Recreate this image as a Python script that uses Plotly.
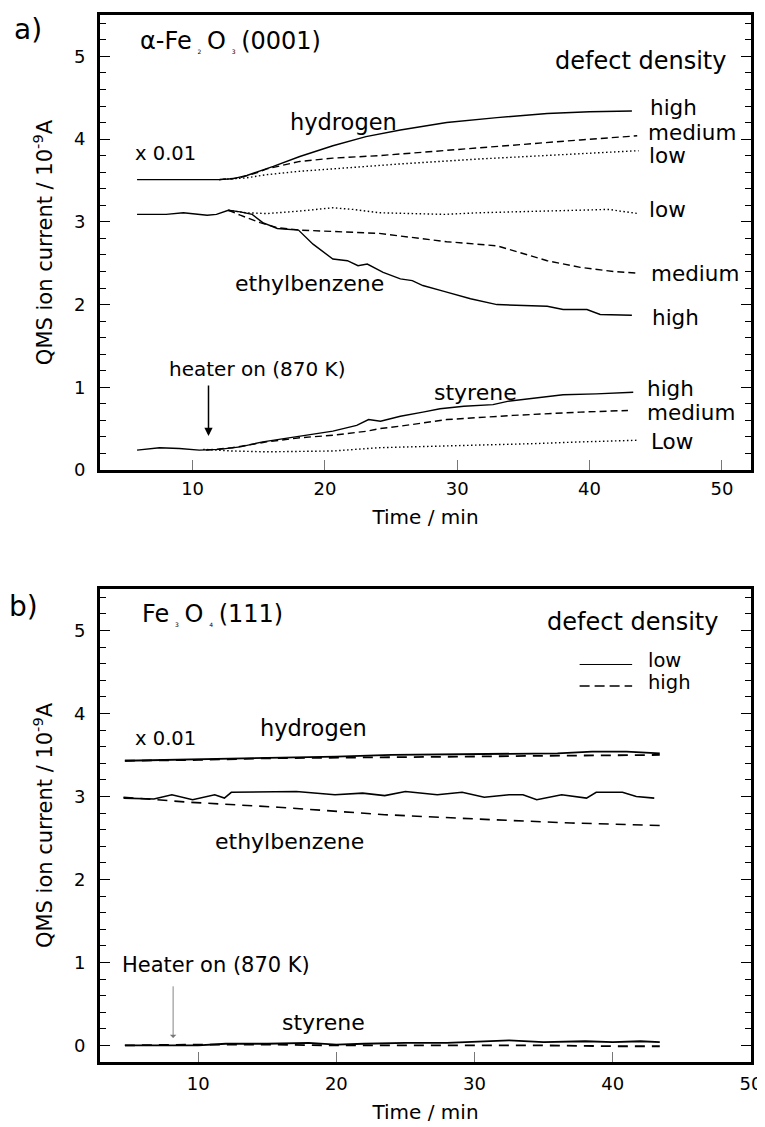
import plotly.graph_objects as go

FONT = "DejaVu Sans, Liberation Sans, Arial, sans-serif"

# ---------------- Panel a: alpha-Fe2O3(0001) ----------------
a_h_high_t = [5.8, 8, 10, 12, 13, 14.1, 16.1, 18.1, 20.6, 23.1, 25.7, 29.2, 33.0, 36.8, 40, 43.2]
a_h_high_v = [3.51, 3.51, 3.51, 3.51, 3.52, 3.56, 3.67, 3.79, 3.92, 4.03, 4.11, 4.20, 4.26, 4.31, 4.33, 4.34]
a_h_med_t = [12, 13.5, 15.0, 15.6, 18.1, 20.6, 24.1, 25.7, 29.2, 34.3, 39.3, 43.6]
a_h_med_v = [3.51, 3.53, 3.60, 3.64, 3.73, 3.77, 3.80, 3.82, 3.87, 3.93, 3.99, 4.04]
a_h_low_t = [12, 14, 15.6, 18, 20.6, 25.7, 31.7, 36.8, 43.7]
a_h_low_v = [3.51, 3.53, 3.57, 3.61, 3.64, 3.70, 3.76, 3.80, 3.86]

a_eb_high_t = [5.8, 8, 9.3, 11.1, 11.8, 12.7, 13.6, 14.5, 15.3, 16.4, 18.0, 19.1, 20.6, 21.7, 22.5,
               23.2, 24.4, 25.7, 26.6, 27.4, 29, 31.0, 33.0, 36.8, 38.0, 39.8, 40.8, 43.2]
a_eb_high_v = [3.09, 3.09, 3.11, 3.08, 3.09, 3.14, 3.12, 3.09, 2.99, 2.92, 2.90, 2.73, 2.55, 2.53, 2.47,
               2.49, 2.39, 2.31, 2.29, 2.23, 2.16, 2.07, 2.00, 1.98, 1.94, 1.94, 1.88, 1.87]
a_eb_med_t = [12.7, 13.6, 15.1, 16.4, 18.1, 21, 24.1, 29.2, 33.0, 34.7, 36.8, 39.3, 41.8, 43.6]
a_eb_med_v = [3.14, 3.08, 2.99, 2.93, 2.90, 2.88, 2.86, 2.76, 2.71, 2.63, 2.53, 2.45, 2.40, 2.38]
a_eb_low_t = [12.7, 14, 15.6, 18.1, 20.6, 22.1, 24.1, 26.6, 29, 31.7, 34, 36.8, 39, 41.5, 42.3, 43.7]
a_eb_low_v = [3.14, 3.11, 3.10, 3.13, 3.17, 3.15, 3.11, 3.10, 3.09, 3.11, 3.12, 3.13, 3.14, 3.15, 3.13, 3.10]

a_st_high_t = [5.8, 7.5, 9.0, 10.5, 12.0, 13.6, 15.3, 17.0, 18.5, 20.6, 22.4, 23.3, 24.2, 25.7, 27.4,
               28.7, 30.5, 32.7, 33.8, 36.0, 38.0, 40.5, 43.3]
a_st_high_v = [0.24, 0.27, 0.26, 0.24, 0.25, 0.28, 0.34, 0.38, 0.42, 0.47, 0.54, 0.61, 0.59, 0.65, 0.70,
               0.74, 0.77, 0.79, 0.83, 0.87, 0.91, 0.92, 0.94]
a_st_med_t = [11, 13.0, 15.6, 18.1, 20.6, 23.2, 24.1, 25.7, 29.2, 34.2, 39.3, 42.9]
a_st_med_v = [0.24, 0.27, 0.34, 0.39, 0.42, 0.47, 0.50, 0.53, 0.61, 0.66, 0.70, 0.72]
a_st_low_t = [10.8, 13, 15.6, 20.6, 24.1, 27, 31.7, 36, 39.3, 43.7]
a_st_low_v = [0.25, 0.23, 0.22, 0.23, 0.27, 0.28, 0.30, 0.32, 0.34, 0.36]

# ---------------- Panel b: Fe3O4(111) ----------------
b_h_low_t = [4.7, 8, 12, 16, 20, 24, 29.3, 33, 36, 38.5, 41, 43.4]
b_h_low_v = [3.43, 3.44, 3.45, 3.47, 3.48, 3.50, 3.51, 3.52, 3.52, 3.54, 3.54, 3.52]
b_h_high_t = [4.7, 10, 15, 20, 25, 29.3, 35, 40, 43.4]
b_h_high_v = [3.43, 3.44, 3.46, 3.47, 3.48, 3.48, 3.49, 3.50, 3.50]

b_eb_low_t = [4.6, 6.8, 8.1, 9.6, 11.2, 11.9, 12.4, 17.1, 19.9, 21.9, 23.5, 25.0, 27.3, 29.1, 30.7,
              32.5, 33.5, 34.5, 36.3, 38.1, 38.8, 40.7, 41.7, 43.0]
b_eb_low_v = [2.98, 2.97, 3.02, 2.96, 3.02, 2.98, 3.05, 3.06, 3.02, 3.04, 3.01, 3.06, 3.02, 3.05, 2.99,
              3.02, 3.02, 2.96, 3.02, 2.98, 3.05, 3.05, 3.00, 2.98]
b_eb_high_t = [4.6, 9.4, 15.8, 23.5, 31.2, 37, 43.4]
b_eb_high_v = [2.99, 2.93, 2.87, 2.78, 2.72, 2.68, 2.65]

b_st_low_t = [4.7, 8, 10, 12, 15, 18, 20, 22, 25, 28, 30, 32.5, 35, 38, 40, 42, 43.4]
b_st_low_v = [0.00, 0.00, 0.00, 0.02, 0.02, 0.03, 0.01, 0.02, 0.03, 0.03, 0.04, 0.06, 0.04, 0.05, 0.04, 0.05, 0.04]
b_st_high_t = [4.7, 10, 15, 20, 25, 30, 35, 40, 43.4]
b_st_high_v = [0.00, 0.01, 0.01, 0.00, 0.00, 0.00, 0.00, -0.01, -0.01]

DASH_A = "7px,4px"
DOT_A = "1.5px,2.5px"
DASH_B = "10px,7px"

fig = go.Figure()


def add(t, v, dash, xa="x", ya="y", w=1.4):
    fig.add_trace(go.Scatter(x=t, y=v, mode="lines", xaxis=xa, yaxis=ya, showlegend=False,
                             hoverinfo="skip",
                             line=dict(color="black", width=w, dash=dash)))


# panel a
add(a_h_low_t, a_h_low_v, DOT_A)
add(a_h_med_t, a_h_med_v, DASH_A)
add(a_h_high_t, a_h_high_v, "solid")
add(a_eb_low_t, a_eb_low_v, DOT_A)
add(a_eb_med_t, a_eb_med_v, DASH_A)
add(a_eb_high_t, a_eb_high_v, "solid")
add(a_st_low_t, a_st_low_v, DOT_A)
add(a_st_med_t, a_st_med_v, DASH_A)
add(a_st_high_t, a_st_high_v, "solid")

# panel b
add(b_h_high_t, b_h_high_v, DASH_B, "x2", "y2", 1.8)
add(b_h_low_t, b_h_low_v, "solid", "x2", "y2", 1.8)
add(b_eb_high_t, b_eb_high_v, DASH_B, "x2", "y2", 1.6)
add(b_eb_low_t, b_eb_low_v, "solid", "x2", "y2", 1.6)
add(b_st_high_t, b_st_high_v, DASH_B, "x2", "y2", 1.8)
add(b_st_low_t, b_st_low_v, "solid", "x2", "y2", 1.8)

ann = []


def txt(x, y, s, size=21.5, xa="x", ya="y", anchor="left"):
    ann.append(dict(x=x, y=y, xref=xa, yref=ya, text=s, showarrow=False, xanchor=anchor,
                    yanchor="middle", borderpad=0,
                    font=dict(family=FONT, size=size, color="black")))


NB = "\u00a0\u00a0\u00a0"


def sub(d):
    return "<sub><span style='font-size:6px'>" + NB + d + NB + "</span></sub>"


# panel a labels
txt(5.95, 5.18, "α-Fe" + sub("2") + "O" + sub("3") + "(0001)", 24)
txt(50.4, 4.94, "defect density", 24, anchor="right")
txt(21.4, 4.21, "hydrogen", 22.5, anchor="center")
txt(5.55, 3.82, "x 0.01", 19.5)
txt(44.5, 4.38, "high")
txt(44.35, 4.08, "medium")
txt(44.45, 3.80, "low")
txt(44.45, 3.15, "low")
txt(44.55, 2.37, "medium")
txt(44.65, 1.84, "high")
txt(18.85, 2.25, "ethylbenzene", 22, anchor="center")
txt(31.4, 0.94, "styrene", 22, anchor="center")
txt(44.25, 0.98, "high")
txt(44.25, 0.70, "medium")
txt(44.55, 0.35, "Low")
txt(14.84, 1.22, "heater on (870 K)", 20, anchor="center")
ann.append(dict(x=11.2, y=0.41, ax=11.2, ay=1.04, xref="x", yref="y", axref="x", ayref="y",
                text="", showarrow=True, arrowhead=2, arrowsize=1.1, arrowwidth=1.5,
                arrowcolor="black"))

# panel b labels
txt(5.9, 5.2, "Fe" + sub("3") + "O" + sub("4") + "(111)", 24, "x2", "y2")
txt(47.7, 5.10, "defect density", 24, "x2", "y2", anchor="right")
txt(42.45, 4.64, "low", 19.5, "x2", "y2")
txt(42.45, 4.37, "high", 19.5, "x2", "y2")
txt(18.35, 3.82, "hydrogen", 22.5, "x2", "y2", anchor="center")
txt(5.35, 3.70, "x 0.01", 19.5, "x2", "y2")
txt(16.6, 2.46, "ethylbenzene", 22, "x2", "y2", anchor="center")
txt(19.1, 0.28, "styrene", 22, "x2", "y2", anchor="center")
txt(11.3, 0.97, "Heater on (870 K)", 21, "x2", "y2", anchor="center")
ann.append(dict(x=8.19, y=0.09, ax=8.19, ay=0.73, xref="x2", yref="y2", axref="x2", ayref="y2",
                text="", showarrow=True, arrowhead=1, arrowsize=1.2, arrowwidth=0.9,
                arrowcolor="#777777"))

# panel letters
ann.append(dict(x=-0.135, y=0.9866, xref="paper", yref="paper", text="a)", showarrow=False,
                xanchor="left", yanchor="middle", font=dict(family=FONT, size=28, color="black")))
ann.append(dict(x=-0.143, y=0.4346, xref="paper", yref="paper", text="b)", showarrow=False,
                xanchor="left", yanchor="middle", font=dict(family=FONT, size=28, color="black")))

shapes = [
    dict(type="line", xref="x2", yref="y2", x0=37.6, x1=41.4, y0=4.59, y1=4.59,
         line=dict(color="black", width=1)),
    dict(type="line", xref="x2", yref="y2", x0=37.6, x1=41.4, y0=4.33, y1=4.33,
         line=dict(color="black", width=1.4, dash="10px,5px")),
]

tickfont = dict(family=FONT, size=18, color="black")
yt = dict(text="QMS ion current / 10<sup>-9</sup>A", font=dict(family=FONT, size=21, color="black"),
          standoff=16)

common_y = dict(dtick=1, tick0=0, ticks="inside", ticklen=10, tickwidth=1, tickcolor="black",
                minor=dict(dtick=0.2, tick0=0, ticks="inside", ticklen=6, tickcolor="black", tickwidth=1),
                showline=True, linewidth=3, linecolor="black", mirror="ticks", showgrid=False,
                zeroline=False, tickfont=tickfont, title=yt, ticklabelstandoff=8, automargin=False)
common_x = dict(dtick=10, tick0=0, ticks="inside", ticklen=10, tickwidth=1, tickcolor="#777777",
                showline=True, linewidth=3, linecolor="black", mirror=True, showgrid=False,
                zeroline=False, tickfont=tickfont, automargin=False, ticklabeloverflow="allow")

# the page body adds an 8px offset, so the figure is 8px smaller and shifted accordingly
fig.update_layout(
    width=757, height=1119,
    margin=dict(l=92, r=14, t=7, b=65),
    paper_bgcolor="white", plot_bgcolor="white",
    showlegend=False,
    xaxis=dict(domain=[0, 1], anchor="y", range=[3, 52.2], ticklabelstandoff=0,
               title=dict(text="Time / min", font=dict(family=FONT, size=20, color="black"), standoff=13),
               **common_x),
    yaxis=dict(domain=[0.5654, 1], anchor="x", range=[0, 5.5], **common_y),
    xaxis2=dict(domain=[0, 1], anchor="y2", range=[2.9, 50], ticklabelstandoff=3,
                title=dict(text="Time / min", font=dict(family=FONT, size=20, color="black"), standoff=13),
                **common_x),
    yaxis2=dict(domain=[0, 0.4518], anchor="x2", range=[-0.2, 5.5], **common_y),
    annotations=ann,
    shapes=shapes,
)

fig.write_html("out.html")
